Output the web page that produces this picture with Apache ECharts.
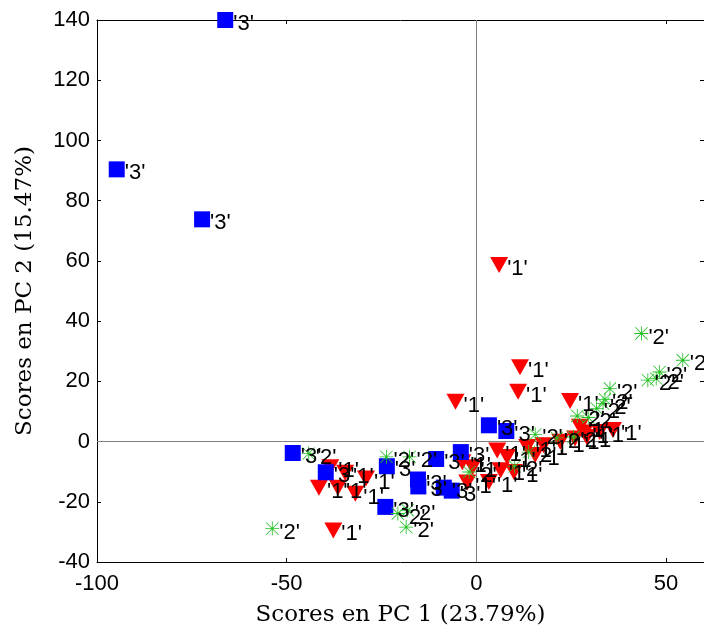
<!DOCTYPE html>
<html>
<head>
<meta charset="utf-8">
<script src="https://cdn.jsdelivr.net/npm/echarts@6/dist/echarts.min.js"></script>
<style>
  html, body { margin: 0; padding: 0; background: #fff; }
  #chart { width: 704px; height: 632px; }
</style>
</head>
<body>
<div id="chart"></div>
<script>
// PCA score plot: PC1 vs PC2, three sample groups
const groupNames = ['1', '2', '3'];

// [PC1 score, PC2 score] for each sample
const scoresGroup1 = [
  [6.0, 58.6], [11.5, 24.7], [11.0, 16.5], [-5.5, 13.2], [24.7, 13.5], [36.0, 3.8],
  [-41.5, -15.3], [-36.5, -15.3], [-31.9, -17.3], [-34.6, -10.4], [-29.1, -12.3],
  [-38.5, -8.5], [-37.7, -29.5],
  [-3.7, -6.9], [-1.0, -8.5], [-2.4, -13.6], [3.3, -13.4], [5.5, -3.0], [8.1, -5.1],
  [6.4, -9.5], [9.9, -10.1], [13.4, -1.8], [17.7, -1.2], [15.5, -4.5], [22.1, -0.1],
  [27.3, 4.9], [29.1, 1.5], [32.5, 3.2], [28.5, 3.0], [26.0, 1.0]
];
const scoresGroup2 = [
  [-53.8, -28.9], [-44.2, -4.0], [-23.7, -5.1], [-17.6, -5.1], [-20.7, -23.9],
  [-18.1, -22.8], [-18.5, -28.4], [-1.9, -10.1], [10.1, -8.2], [13.8, -3.5],
  [15.5, 2.4], [21.2, 1.2], [25.6, 1.5], [26.6, 8.5], [29.5, 8.0], [31.7, 11.0],
  [33.4, 12.6], [33.9, 14.0], [35.2, 17.6], [43.5, 35.9], [45.2, 20.4],
  [47.4, 20.9], [48.3, 23.1], [54.4, 27.0]
];
const scoresGroup3 = [
  [-66.2, 140], [-94.8, 90.4], [-72.3, 73.8], [-48.4, -3.8], [-39.7, -10.2],
  [-23.6, -8.2], [-24.0, -21.7], [-15.4, -12.6], [-15.3, -14.9], [-10.6, -5.8],
  [-8.6, -15.3], [-6.5, -16.3], [-4.1, -3.5], [3.3, 5.4], [7.9, 3.5]
];

const xTitle = 'Scores en PC 1 (23.79%)';
const yTitle = 'Scores en PC 2 (15.47%)';
const xRange = [-100, 60];
const yRange = [-40, 140];

// eight-armed asterisk marker built from thin filled bars
const asterisk = 'path://M0,47 H100 V53 H0 Z M47,0 H53 V100 H47 Z M4,8 L8,4 L96,92 L92,96 Z M92,4 L96,8 L8,96 L4,92 Z';

const tickFont = { fontFamily: 'Liberation Sans', fontSize: 22, color: '#000' };
const titleFont = { fontFamily: 'DejaVu Serif', fontSize: 23, color: '#000' };

function pointLabel(name, distance) {
  return {
    show: true,
    position: 'right',
    distance: distance,
    offset: [0, 4],
    formatter: "'" + name + "'",
    fontFamily: 'Liberation Sans',
    fontSize: 22,
    color: '#000'
  };
}

function frameAxis(extra) {
  return Object.assign({
    type: 'value',
    axisLine: { show: true, onZero: false, lineStyle: { color: '#000', width: 1 } },
    axisTick: { show: true, inside: true, length: 4, lineStyle: { color: '#000' } },
    splitLine: { show: false }
  }, extra);
}

const chart = echarts.init(document.getElementById('chart'), null, { renderer: 'canvas' });

chart.setOption({
  animation: false,
  backgroundColor: '#fff',
  grid: { left: 97, right: -4, top: 20, bottom: 70 },
  xAxis: [
    frameAxis({
      min: xRange[0], max: xRange[1], interval: 50, position: 'bottom',
      name: xTitle, nameLocation: 'middle', nameGap: 42, nameTextStyle: titleFont,
      axisLabel: Object.assign({ margin: 11, showMaxLabel: false }, tickFont)
    }),
    frameAxis({
      min: xRange[0], max: xRange[1], interval: 50, position: 'top',
      axisLabel: { show: false }
    })
  ],
  yAxis: [
    frameAxis({
      min: yRange[0], max: yRange[1], interval: 20, position: 'left',
      name: yTitle, nameLocation: 'middle', nameGap: 60, nameTextStyle: titleFont,
      axisLabel: Object.assign({ margin: 7 }, tickFont)
    }),
    frameAxis({
      min: yRange[0], max: yRange[1], interval: 20, position: 'right',
      axisLabel: { show: false }
    })
  ],
  series: [
    {
      name: groupNames[0],
      type: 'scatter',
      clip: false,
      data: scoresGroup1,
      symbol: 'triangle',
      symbolRotate: 180,
      symbolSize: [18, 16],
      itemStyle: { color: '#ff0000', opacity: 1 },
      label: pointLabel(groupNames[0], -1),
      markLine: {
        silent: true,
        symbol: ['none', 'none'],
        label: { show: false },
        lineStyle: { color: '#808080', width: 1, type: 'solid' },
        data: [{ xAxis: 0 }, { yAxis: 0 }],
        z: 1
      }
    },
    {
      name: groupNames[2],
      type: 'scatter',
      clip: false,
      data: scoresGroup3,
      symbol: 'rect',
      symbolSize: 16,
      itemStyle: { color: '#0000ff', opacity: 1 },
      label: pointLabel(groupNames[2], 0)
    },
    {
      name: groupNames[1],
      type: 'scatter',
      clip: false,
      data: scoresGroup2,
      symbol: asterisk,
      symbolSize: 14,
      itemStyle: { color: '#22c022', opacity: 1 },
      label: pointLabel(groupNames[1], 0)
    }
  ]
});
</script>
</body>
</html>
